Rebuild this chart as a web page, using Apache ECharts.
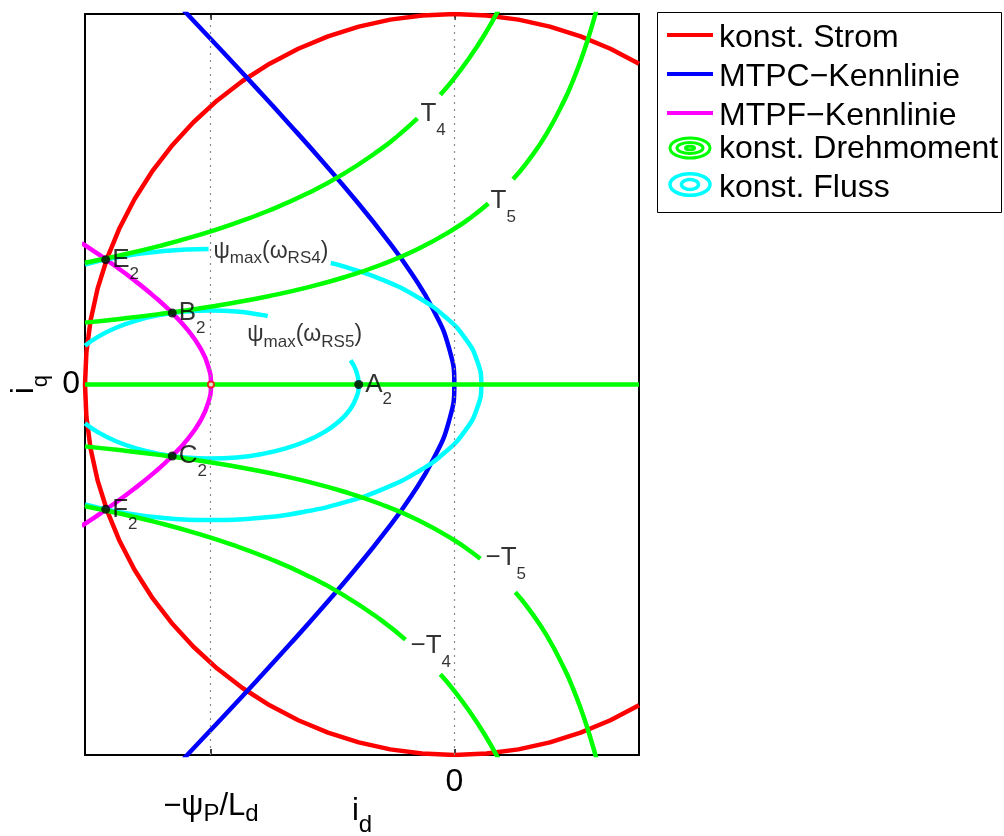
<!DOCTYPE html>
<html>
<head>
<meta charset="utf-8">
<script src="https://cdn.jsdelivr.net/npm/echarts@6/dist/echarts.min.js"></script>
<style>
html,body{margin:0;padding:0;background:#fff;}
#chart{width:1004px;height:836px;}
</style>
</head>
<body>
<div id="chart"></div>
<script>
// ---------- data (i_d, i_q), normalised to the current limit ----------
const xTickValues = [-0.659, 0];
const xTickLabels = ['{m|\u2212\u03c8}{s|P}{m|/L}{s|d}', '0'];
const yTickValues = [0];
const yTickLabels = ['0'];

const currentCircle = [[0.5,0.866],[0.4226,0.9063],[0.342,0.9397],[0.2588,0.9659],[0.1736,0.9848],[0.0872,0.9962],[0,1],[-0.0872,0.9962],[-0.1736,0.9848],[-0.2588,0.9659],[-0.342,0.9397],[-0.4226,0.9063],[-0.5,0.866],[-0.5736,0.8192],[-0.6428,0.766],[-0.7071,0.7071],[-0.766,0.6428],[-0.8192,0.5736],[-0.866,0.5],[-0.9063,0.4226],[-0.9397,0.342],[-0.9659,0.2588],[-0.9848,0.1736],[-0.9962,0.0872],[-1,0],
  [-0.9962,-0.0872],[-0.9848,-0.1736],[-0.9659,-0.2588],[-0.9397,-0.342],[-0.9063,-0.4226],[-0.866,-0.5],[-0.8192,-0.5736],[-0.766,-0.6428],[-0.7071,-0.7071],[-0.6428,-0.766],[-0.5736,-0.8192],[-0.5,-0.866],[-0.4226,-0.9063],[-0.342,-0.9397],[-0.2588,-0.9659],[-0.1736,-0.9848],[-0.0872,-0.9962],[0,-1],[0.0872,-0.9962],[0.1736,-0.9848],[0.2588,-0.9659],[0.342,-0.9397],[0.4226,-0.9063],[0.5,-0.866]];

const mtpcCurve = [[-0.7329,1.01],[-0.6289,0.9],[-0.5357,0.8],[-0.4442,0.7],[-0.355,0.6],[-0.2693,0.5],[-0.1888,0.4],[-0.1161,0.3],[-0.056,0.2],[-0.0149,0.1],[0,0],[-0.0149,-0.1],[-0.056,-0.2],[-0.1161,-0.3],[-0.1888,-0.4],[-0.2693,-0.5],[-0.355,-0.6],[-0.4442,-0.7],[-0.5357,-0.8],[-0.6289,-0.9],[-0.7329,-1.01]];

const mtpfCurve = [[-1.0088,0.3818],[-0.9842,0.3655],[-0.9241,0.3239],[-0.8667,0.2815],[-0.8128,0.2379],[-0.7638,0.193],[-0.7214,0.1467],[-0.6881,0.0989],[-0.6665,0.0499],[-0.659,0],[-0.6665,-0.0499],[-0.6881,-0.0989],[-0.7214,-0.1467],[-0.7638,-0.193],[-0.8128,-0.2379],[-0.8667,-0.2815],[-0.9241,-0.3239],[-0.9842,-0.3655],[-1.0088,-0.3818]];

// constant torque curves, split where the contour labels sit
const torqueT4a = [[-1,0.3285],[-0.9,0.3496],[-0.8,0.3735],[-0.7,0.401],[-0.6,0.4329],[-0.5,0.4702],[-0.4,0.5146],[-0.3,0.5683],[-0.2,0.6345],[-0.15,0.6737],[-0.1,0.7181]];
const torqueT4b = [[-0.038,0.7819],[0,0.827],[0.04,0.8805],[0.08,0.9413],[0.12,1.0111]];
const torqueT5a = [[-1,0.167],[-0.9,0.1777],[-0.8,0.1899],[-0.7,0.2038],[-0.6,0.22],[-0.5,0.239],[-0.4,0.2616],[-0.3,0.2888],[-0.2,0.3225],[-0.1,0.365],[0,0.4203],[0.05,0.4548],[0.092,0.4885]];
const torqueT5b = [[0.159,0.554],[0.2,0.6035],[0.25,0.6773],[0.3,0.7716],[0.32,0.8171],[0.34,0.8683],[0.36,0.9264],[0.38,0.9928],[0.39,1.0297]];
const torqueNegT4a = [[-1,-0.3285],[-0.9,-0.3496],[-0.8,-0.3735],[-0.7,-0.401],[-0.6,-0.4329],[-0.5,-0.4702],[-0.4,-0.5146],[-0.3,-0.5683],[-0.2,-0.6345],[-0.1324,-0.6887]];
const torqueNegT4b = [[-0.0378,-0.7822],[0,-0.827],[0.04,-0.8805],[0.08,-0.9413],[0.12,-1.0111]];
const torqueNegT5a = [[-1,-0.167],[-0.9,-0.1777],[-0.8,-0.1899],[-0.7,-0.2038],[-0.6,-0.22],[-0.5,-0.239],[-0.4,-0.2616],[-0.3,-0.2888],[-0.2,-0.3225],[-0.1,-0.365],[0,-0.4203],[0.05,-0.4548],[0.0703,-0.4705]];
const torqueNegT5b = [[0.165,-0.5607],[0.2,-0.6035],[0.25,-0.6773],[0.3,-0.7716],[0.32,-0.8171],[0.34,-0.8683],[0.36,-0.9264],[0.38,-0.9928],[0.39,-1.0297]];
const torqueZero = [[-1,0],[0.5,0]];

// constant flux ellipses, split where the contour labels sit
const fluxRS5a = [[-1,0.1045],[-0.9654,0.1286],[-0.9161,0.1532],[-0.859,0.1732],[-0.7958,0.1879],[-0.7284,0.197],[-0.659,0.2],[-0.5896,0.197],[-0.5222,0.1879],[-0.5053,0.1846]];
const fluxRS5b = [[-0.281,0.0654],[-0.2651,0.0347],[-0.259,0],[-0.2651,-0.0347],[-0.2831,-0.0684],[-0.3126,-0.1],[-0.3526,-0.1286],[-0.4019,-0.1532],[-0.459,-0.1732],[-0.5222,-0.1879],[-0.5896,-0.197],[-0.659,-0.2],[-0.7284,-0.197],[-0.7958,-0.1879],[-0.859,-0.1732],[-0.9161,-0.1532],[-0.9654,-0.1286],[-1,-0.1045]];
const fluxRS4a = [[-1,0.3238],[-0.9093,0.3439],[-0.7861,0.3604],[-0.6654,0.366]];
const fluxRS4b = [[-0.3346,0.3281],[-0.293,0.317],[-0.1885,0.2804],[-0.0983,0.2353],[-0.0251,0.183],[0.0289,0.1252],[0.0619,0.0635],[0.073,0],[0.0619,-0.0635],[0.0289,-0.1252],[-0.0251,-0.183],[-0.0983,-0.2353],[-0.1885,-0.2804],[-0.293,-0.317],[-0.4087,-0.3439],[-0.5319,-0.3604],[-0.659,-0.366],[-0.7861,-0.3604],[-0.9093,-0.3439],[-1,-0.3238]];

// operating points
const pointNames = ['A', 'B', 'C', 'E', 'F'];
const pointCoords = [[-0.259,0],[-0.7638,0.193],[-0.7638,-0.193],[-0.944,0.337],[-0.944,-0.337]];
const centerPoint = [[-0.659, 0]];

// contour labels: anchor (i_d, i_q), main text, subscript
const torqueLabels = [
  {at:[-0.093,0.7301], text:'{m|T}{s|4}'},
  {at:[0.0966,0.4953], text:'{m|T}{s|5}'},
  {at:[0.083,-0.4669], text:'{m|\u2212T}{s|5}'},
  {at:[-0.1201,-0.7058], text:'{m|\u2212T}{s|4}'}
];
const fluxLabels = [
  {at:[-0.6535,0.359], text:'{m|\u03c8}{s|max}{m|(\u03c9}{s|RS4}{m|)}'},
  {at:[-0.5622,0.1336], text:'{m|\u03c8}{s|max}{m|(\u03c9}{s|RS5}{m|)}'}
];

const legendNames = ['konst. Strom', 'MTPC\u2212Kennlinie', 'MTPF\u2212Kennlinie', 'konst. Drehmoment', 'konst. Fluss'];

// ---------- styling ----------
const FONT = '"Liberation Sans", Arial, Helvetica, sans-serif';
const RED = '#ff0000', BLUE = '#0000ff', MAG = '#ff00ff', GREEN = '#00ff00', CYAN = '#00ffff';
const LW = 4.5;

function lineSeries(data, color, z, extra) {
  return Object.assign({
    type: 'line', data: data, showSymbol: false, smooth: true, silent: true,
    lineStyle: {color: color, width: LW, cap: 'butt', join: 'round'}, z: z, animation: false
  }, extra || {});
}

const chart = echarts.init(document.getElementById('chart'), null, {renderer: 'canvas'});

const axisCommon = {
  type: 'value',
  axisLine: {show: true, onZero: false, lineStyle: {color: '#000', width: 2}},
  splitLine: {show: false},
  nameMoveOverlap: false
};

const series = [
  lineSeries(currentCircle, RED, 2, {
    smooth: false,
    markLine: {
      silent: true, symbol: ['none', 'none'], label: {show: false},
      lineStyle: {type: [2, 5], color: '#8a8a8a', width: 1.2},
      data: xTickValues.map(v => ({xAxis: v})), animation: false
    }
  }),
  lineSeries(mtpcCurve, BLUE, 3),
  lineSeries(mtpfCurve, MAG, 3),
  lineSeries(fluxRS5a, CYAN, 4), lineSeries(fluxRS5b, CYAN, 4),
  lineSeries(fluxRS4a, CYAN, 4), lineSeries(fluxRS4b, CYAN, 4),
  lineSeries(torqueZero, GREEN, 5, {smooth: false}),
  lineSeries(torqueT4a, GREEN, 5), lineSeries(torqueT4b, GREEN, 5),
  lineSeries(torqueT5a, GREEN, 5), lineSeries(torqueT5b, GREEN, 5),
  lineSeries(torqueNegT4a, GREEN, 5), lineSeries(torqueNegT4b, GREEN, 5),
  lineSeries(torqueNegT5a, GREEN, 5), lineSeries(torqueNegT5b, GREEN, 5),
  {
    type: 'scatter', data: centerPoint, symbol: 'emptyCircle', symbolSize: 6, z: 6, silent: true,
    itemStyle: {color: RED, borderColor: RED, borderWidth: 1.5}, animation: false
  },
  {
    type: 'scatter', z: 10, symbolSize: 9, silent: true, animation: false,
    itemStyle: {color: '#000'},
    data: pointCoords.map((c, i) => ({value: c, label: {formatter: '{m|' + pointNames[i] + '}{s|2}'}})),
    label: {
      show: true, position: 'right', distance: 2, color: '#000', fontFamily: FONT,
      rich: {
        m: {fontSize: 26, fontFamily: FONT, color: '#000'},
        s: {fontSize: 17, fontFamily: FONT, color: '#000', padding: [30, 0, 0, 0]}
      }
    }
  },
  {
    type: 'scatter', z: 10, symbolSize: 1, silent: true, animation: false,
    itemStyle: {color: 'rgba(0,0,0,0)'},
    data: torqueLabels.map(l => ({value: l.at, label: {formatter: l.text}})),
    label: {
      show: true, position: 'right', distance: 0, color: '#000', fontFamily: FONT,
      rich: {
        m: {fontSize: 26, fontFamily: FONT, color: '#000'},
        s: {fontSize: 17, fontFamily: FONT, color: '#000', padding: [33, 0, 0, 0]}
      }
    }
  },
  {
    type: 'scatter', z: 10, symbolSize: 1, silent: true, animation: false,
    itemStyle: {color: 'rgba(0,0,0,0)'},
    data: fluxLabels.map(l => ({value: l.at, label: {formatter: l.text}})),
    label: {
      show: true, position: 'right', distance: 0, color: '#000', fontFamily: FONT,
      rich: {
        m: {fontSize: 23, fontFamily: FONT, color: '#000'},
        s: {fontSize: 17, fontFamily: FONT, color: '#000', padding: [14, 0, 0, 0]}
      }
    }
  }
];

function tickLabel(values, labels) {
  return function (v) {
    let best = 0;
    for (let i = 1; i < values.length; i++) {
      if (Math.abs(values[i] - v) < Math.abs(values[best] - v)) best = i;
    }
    return labels[best];
  };
}

// legend drawn with graphic elements (icons for contour entries are concentric ellipses)
const LX = 657, LY = 12;
const rowY = [38.5, 77.5, 116, 149, 188];
const graphic = [
  {type: 'rect', shape: {x: LX + 0.5, y: LY + 0.5, width: 344, height: 200}, style: {fill: '#fff', stroke: '#000', lineWidth: 1}, z: 100, silent: true},
  {type: 'line', shape: {x1: 667, y1: 35, x2: 713, y2: 35}, style: {stroke: RED, lineWidth: 4}, z: 101},
  {type: 'line', shape: {x1: 667, y1: 74, x2: 713, y2: 74}, style: {stroke: BLUE, lineWidth: 4}, z: 101},
  {type: 'line', shape: {x1: 667, y1: 113, x2: 713, y2: 113}, style: {stroke: MAG, lineWidth: 4}, z: 101},
  {type: 'ellipse', shape: {cx: 690, cy: 148, rx: 20, ry: 10}, style: {fill: 'none', stroke: GREEN, lineWidth: 3}, z: 101},
  {type: 'ellipse', shape: {cx: 690, cy: 148, rx: 13, ry: 5.5}, style: {fill: 'none', stroke: GREEN, lineWidth: 3}, z: 101},
  {type: 'ellipse', shape: {cx: 690, cy: 148, rx: 4.5, ry: 1.8}, style: {fill: 'none', stroke: GREEN, lineWidth: 3}, z: 101},
  {type: 'ellipse', shape: {cx: 690, cy: 184.5, rx: 20, ry: 10.8}, style: {fill: 'none', stroke: CYAN, lineWidth: 3.5}, z: 101},
  {type: 'ellipse', shape: {cx: 690, cy: 184.5, rx: 8.5, ry: 5}, style: {fill: 'none', stroke: CYAN, lineWidth: 3.5}, z: 101}
].concat(legendNames.map((n, i) => ({
  type: 'text', z: 102, silent: true,
  style: {text: n, x: 719, y: rowY[i], fill: '#000', fontSize: 32, fontFamily: FONT, verticalAlign: 'middle', align: 'left'}
})));

chart.setOption({
  animation: false,
  backgroundColor: '#fff',
  grid: {left: 85, right: 365, top: 14, bottom: 81, containLabel: false, outerBoundsMode: 'none'},
  xAxis: [
    Object.assign({}, axisCommon, {
      position: 'bottom', min: -1, max: 0.5,
      name: '{m|i}{s|d}', nameLocation: 'middle', nameGap: 30,
      nameTextStyle: {rich: {m: {fontSize: 31, fontFamily: FONT, color: '#000'}, s: {fontSize: 24, fontFamily: FONT, color: '#000', padding: [28, 0, 0, 0]}}},
      axisTick: {show: true, inside: true, length: 6, customValues: xTickValues, lineStyle: {color: '#000', width: 1.5}},
      axisLabel: {
        show: true, customValues: xTickValues, margin: 11, color: '#000', fontSize: 32, fontFamily: FONT,
        formatter: tickLabel(xTickValues, xTickLabels),
        rich: {
          m: {fontSize: 31, fontFamily: FONT, color: '#000', padding: [20, 0, 0, 0]},
          s: {fontSize: 24, fontFamily: FONT, color: '#000', padding: [36, 0, 0, 0]}
        }
      }
    }),
    Object.assign({}, axisCommon, {
      position: 'top', min: -1, max: 0.5,
      axisTick: {show: true, inside: true, length: 6, customValues: xTickValues, lineStyle: {color: '#000', width: 1.5}},
      axisLabel: {show: false}
    })
  ],
  yAxis: [
    Object.assign({}, axisCommon, {
      position: 'left', min: -1, max: 1,
      name: '{m|i}{s|q}', nameLocation: 'middle', nameGap: 33, nameRotate: 90,
      nameTextStyle: {rich: {m: {fontSize: 31, fontFamily: FONT, color: '#000'}, s: {fontSize: 22, fontFamily: FONT, color: '#000', padding: [33, 0, 0, 0]}}},
      axisTick: {show: true, inside: true, length: 6, customValues: yTickValues, lineStyle: {color: '#000', width: 1.5}},
      axisLabel: {show: true, customValues: yTickValues, margin: 5, color: '#000', fontSize: 32, fontFamily: FONT, formatter: tickLabel(yTickValues, yTickLabels)}
    }),
    Object.assign({}, axisCommon, {
      position: 'right', min: -1, max: 1,
      axisTick: {show: true, inside: true, length: 6, customValues: yTickValues, lineStyle: {color: '#000', width: 1.5}},
      axisLabel: {show: false}
    })
  ],
  series: series,
  graphic: graphic
});
</script>
</body>
</html>
